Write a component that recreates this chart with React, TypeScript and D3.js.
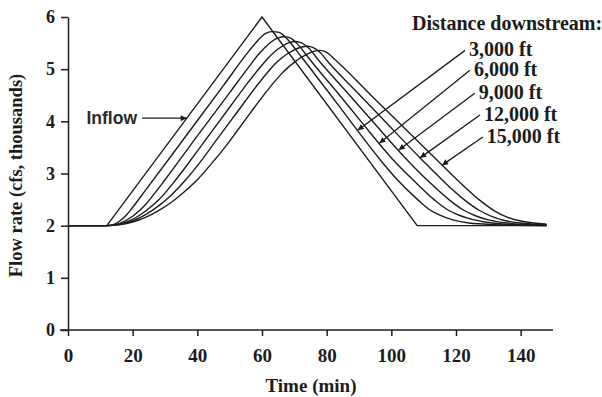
import React, { useEffect, useRef } from 'react';
import * as d3 from 'd3';

type Pt = [number, number];

const timeTicks = [0, 20, 40, 60, 80, 100, 120, 140];
const flowTicks = [0, 1, 2, 3, 4, 5, 6];

// [time (min), flow rate (cfs, thousands)]
const inflow: Pt[] = [[0, 2], [12, 2], [60, 6], [108, 2], [148, 2]];

const at3000: Pt[] = [
  [0, 2], [12, 2], [14, 2.02], [16, 2.09], [18, 2.2], [19.6, 2.32], [24, 2.68], [36, 3.68], [48, 4.68],
  [56, 5.35], [59, 5.57], [61, 5.68], [63, 5.72], [65, 5.71], [66.5, 5.66], [68.5, 5.53], [70.5, 5.37],
  [73, 5.17], [81.3, 4.5], [87.4, 4.0], [96.6, 3.26], [102, 2.87], [108.3, 2.49], [111.5, 2.32],
  [115, 2.2], [119, 2.11], [124, 2.05], [132, 2.02], [148, 2.0]
];
const at6000: Pt[] = [
  [0, 2], [12, 2], [16, 2.045], [20, 2.18], [24, 2.405], [26.8, 2.62], [30, 2.88], [40, 3.72], [50, 4.55],
  [56, 5.05], [59, 5.29], [61, 5.42], [63, 5.53], [65, 5.6], [67, 5.62], [69, 5.59], [71, 5.48], [73, 5.33],
  [75, 5.17], [84, 4.5], [90.6, 4.0], [100.6, 3.26], [107, 2.86], [113.4, 2.49], [117, 2.32],
  [121, 2.2], [125, 2.12], [130, 2.06], [138, 2.02], [148, 2.0]
];
const at9000: Pt[] = [
  [0, 2], [12, 2], [16, 2.03], [20, 2.12], [24, 2.28], [28, 2.49], [33.6, 2.9], [40, 3.43], [50, 4.27],
  [56, 4.77], [60, 5.08], [62, 5.22], [64, 5.34], [66, 5.43], [68, 5.5], [70, 5.53], [72, 5.51],
  [74.5, 5.4], [77.5, 5.17], [87.1, 4.5], [94.2, 4.0], [104.9, 3.26], [111.5, 2.85], [118, 2.49],
  [122, 2.31], [126, 2.19], [130, 2.11], [136, 2.05], [148, 2.01]
];
const at12000: Pt[] = [
  [0, 2], [12, 2], [16, 2.02], [20, 2.09], [24, 2.21], [28, 2.38], [32, 2.59], [36, 2.85], [40.4, 3.18],
  [46, 3.65], [52, 4.15], [58, 4.65], [62, 4.96], [64, 5.1], [66, 5.21], [68, 5.3], [70, 5.37], [72, 5.42],
  [74, 5.44], [76, 5.41], [78, 5.32], [80, 5.17], [90.3, 4.5], [98, 4.0], [109.5, 3.26], [116, 2.86],
  [122.7, 2.49], [127, 2.3], [131, 2.18], [135, 2.1], [140, 2.05], [148, 2.02]
];
const at15000: Pt[] = [
  [0, 2], [12, 2], [16, 2.02], [20, 2.07], [24, 2.16], [28, 2.29], [32, 2.45], [36, 2.65], [40, 2.88],
  [44, 3.16], [49, 3.54], [52, 3.79], [56, 4.13], [60, 4.46], [64, 4.77], [66, 4.91], [68, 5.03],
  [70, 5.13], [72, 5.22], [74, 5.29], [76, 5.34], [78, 5.36], [80, 5.32], [82.8, 5.17], [93.7, 4.5],
  [101.9, 4.0], [114.1, 3.26], [120.5, 2.87], [127.3, 2.49], [132, 2.28], [136, 2.16], [140, 2.09],
  [144, 2.05], [148, 2.03]
];
const routed = [at3000, at6000, at9000, at12000, at15000];

const distanceLabels = ['3,000 ft', '6,000 ft', '9,000 ft', '12,000 ft', '15,000 ft'];
// arrow from label to its curve, in chart units
const arrowTails: Pt[] = [[122.8, 5.36], [124.3, 4.98], [125.8, 4.54], [127.4, 4.12], [128.3, 3.7]];
const arrowTips: Pt[] = [[89.6, 3.83], [96.3, 3.58], [102.3, 3.45], [108.9, 3.3], [115.7, 3.16]];
const inflowArrow: Pt[] = [[22.9, 4.06], [36.7, 4.06]];

const ink = '#1c1c1c';
const serif = '"Liberation Serif", "Times New Roman", serif';

const FlowChart = () => {
  const svgRef = useRef(null);

  useEffect(() => {
    const width = 602;
    const height = 397;

    d3.select(svgRef.current).selectAll('*').remove();

    const svg = d3.select(svgRef.current)
      .attr('width', width)
      .attr('height', height);

    const x = d3.scaleLinear().domain([0, 150]).range([68, 553]);
    const y = d3.scaleLinear().domain([0, 6]).range([330, 17]);

    svg.append('defs').append('marker')
      .attr('id', 'head')
      .attr('viewBox', '0 0 10 10')
      .attr('refX', 10)
      .attr('refY', 5)
      .attr('markerWidth', 8)
      .attr('markerHeight', 6)
      .attr('markerUnits', 'userSpaceOnUse')
      .attr('orient', 'auto')
      .append('path')
      .attr('d', 'M0,0 L10,5 L0,10 z')
      .attr('fill', ink);

    // y axis
    const gY = svg.append('g')
      .attr('transform', `translate(${x(0)},0)`)
      .call(d3.axisLeft(y).tickValues(flowTicks).tickSize(7).tickSizeOuter(0).tickPadding(6)
        .tickFormat(d3.format('d')));
    gY.select('.domain').attr('stroke', ink).attr('stroke-width', 1.5);
    gY.selectAll('line').attr('stroke', ink).attr('stroke-width', 1.5);
    gY.selectAll('text')
      .attr('font-family', serif).attr('font-weight', 'bold').attr('font-size', 18).attr('fill', ink);

    // x axis
    const gX = svg.append('g')
      .attr('transform', `translate(0,${y(0)})`)
      .call(d3.axisBottom(x).tickValues(timeTicks).tickSize(6).tickSizeOuter(0).tickPadding(13)
        .tickFormat(d3.format('d')));
    gX.select('.domain').remove();
    gX.selectAll('line').attr('stroke', ink).attr('stroke-width', 1.5);
    gX.selectAll('text')
      .attr('font-family', serif).attr('font-weight', 'bold').attr('font-size', 19).attr('fill', ink);
    gX.append('line')
      .attr('x1', x(-2.5)).attr('x2', x(150))
      .attr('stroke', ink).attr('stroke-width', 1.4);

    // axis titles
    svg.append('text')
      .attr('transform', `translate(22,${(y(0) + y(6)) / 2 + 2}) rotate(-90)`)
      .attr('text-anchor', 'middle')
      .attr('font-family', serif).attr('font-weight', 'bold').attr('font-size', 18.5).attr('fill', ink)
      .text('Flow rate (cfs, thousands)');

    svg.append('text')
      .attr('x', 311).attr('y', 392)
      .attr('text-anchor', 'middle')
      .attr('font-family', serif).attr('font-weight', 'bold').attr('font-size', 19).attr('fill', ink)
      .text('Time (min)');

    // hydrographs
    const line = d3.line<Pt>().x(d => x(d[0])).y(d => y(d[1]));

    svg.append('path')
      .attr('d', line.curve(d3.curveLinear)(inflow))
      .attr('fill', 'none').attr('stroke', ink).attr('stroke-width', 1.4);

    routed.forEach(s => {
      svg.append('path')
        .attr('d', line.curve(d3.curveMonotoneX)(s))
        .attr('fill', 'none').attr('stroke', ink).attr('stroke-width', 1.4);
    });

    // Inflow label
    svg.append('line')
      .attr('x1', x(inflowArrow[0][0])).attr('y1', y(inflowArrow[0][1]))
      .attr('x2', x(inflowArrow[1][0])).attr('y2', y(inflowArrow[1][1]))
      .attr('stroke', ink).attr('stroke-width', 1.3).attr('marker-end', 'url(#head)');
    svg.append('text')
      .attr('x', x(inflowArrow[0][0]) - 5).attr('y', y(inflowArrow[0][1]) + 6)
      .attr('text-anchor', 'end')
      .attr('font-family', '"Liberation Sans", Arial, sans-serif').attr('font-size', 17.5)
      .attr('font-weight', 'bold').attr('fill', '#2a2a2a')
      .text('Inflow');

    // distance labels
    svg.append('text')
      .attr('x', 412).attr('y', 30)
      .attr('font-family', serif).attr('font-weight', 'bold').attr('font-size', 20).attr('fill', ink)
      .text('Distance downstream:');

    distanceLabels.forEach((label, i) => {
      const [tx, ty] = arrowTails[i];
      const [hx, hy] = arrowTips[i];
      svg.append('line')
        .attr('x1', x(tx)).attr('y1', y(ty))
        .attr('x2', x(hx)).attr('y2', y(hy))
        .attr('stroke', ink).attr('stroke-width', 1.3).attr('marker-end', 'url(#head)');
      svg.append('text')
        .attr('x', x(tx) + 4).attr('y', y(ty) + 6)
        .attr('font-family', serif).attr('font-weight', 'bold').attr('font-size', 20).attr('fill', ink)
        .text(label);
    });
  }, []);

  return <svg ref={svgRef} style={{ position: 'absolute', left: 0, top: 0 }}></svg>;
};

export default function App() {
  return <FlowChart />;
}
